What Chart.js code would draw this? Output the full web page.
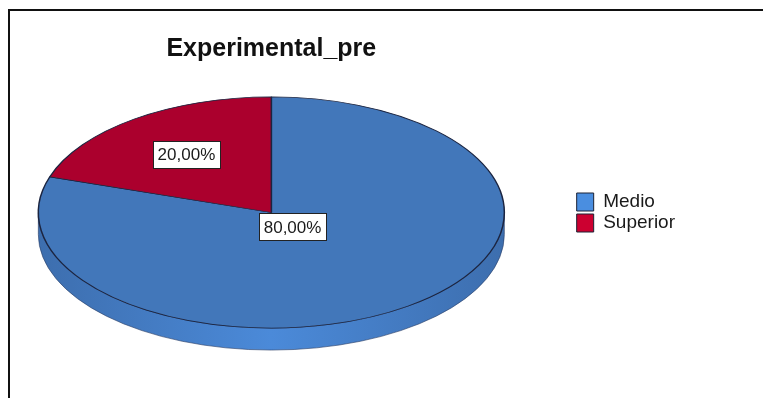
<!DOCTYPE html>
<html>
<head>
<meta charset="utf-8">
<title>Experimental_pre</title>
<script src="https://cdn.jsdelivr.net/npm/chart.js@4.4.0/dist/chart.umd.min.js"></script>
<style>
    html, body { margin: 0; padding: 0; background: #fff; overflow: hidden; }
    #wrap { position: relative; width: 763px; height: 398px; overflow: hidden; }
    #frame { position: absolute; left: 8px; top: 9px; right: -10px; bottom: -10px;
             border-left: 2px solid #111; border-top: 2px solid #111; }
    /* canvas starts a bit left of the page so the big pie sits where it should */
    #pieChart { position: absolute; left: -32px; top: 0; }
</style>
</head>
<body>
<div id="wrap">
    <div id="frame"></div>
    <canvas id="pieChart" width="795" height="398"></canvas>
</div>
<script>
var categories = ['Medio', 'Superior'];
var percentages = [80, 20];

var sliceColors = ['#4277ba', '#ab002d'];
var legendColors = ['#4a8ee0', '#cc0030'];
var fontFamily = '"Liberation Sans", Arial, sans-serif';

// fake 3d: squash the pie vertically and paint a side wall under it
var pie3d = {
    id: 'pie3d',
    beforeDatasetsDraw: function (chart, args, opts) {
        var ctx = chart.ctx;
        var arcs = chart.getDatasetMeta(0).data;
        var cx = arcs[0].x, cy = arcs[0].y, r = arcs[0].outerRadius;
        var ry = r * opts.tilt;

        ctx.save();
        arcs.forEach(function (arc, i) {
            var a0 = Math.max(arc.startAngle, 0);
            var a1 = Math.min(arc.endAngle, Math.PI);
            if (a1 <= a0) return;
            var shade = opts.sideColors[i];
            var grad = ctx.createLinearGradient(cx - r, 0, cx + r, 0);
            grad.addColorStop(0, shade[0]);
            grad.addColorStop(0.5, shade[1]);
            grad.addColorStop(1, shade[0]);
            ctx.beginPath();
            ctx.ellipse(cx, cy, r, ry, 0, a0, a1);
            ctx.ellipse(cx, cy + opts.depth, r, ry, 0, a1, a0, true);
            ctx.closePath();
            ctx.fillStyle = grad;
            ctx.fill();
            ctx.lineWidth = 1;
            ctx.strokeStyle = 'rgba(40, 60, 100, 0.6)';
            ctx.stroke();
        });
        ctx.restore();

        ctx.save();
        ctx.translate(cx, cy);
        ctx.scale(1, opts.tilt);
        ctx.translate(-cx, -cy);
    },
    afterDatasetsDraw: function (chart, args, opts) {
        var ctx = chart.ctx;
        ctx.restore();

        var arcs = chart.getDatasetMeta(0).data;
        var values = chart.data.datasets[0].data;
        var total = values.reduce(function (a, b) { return a + b; }, 0);

        ctx.save();
        ctx.font = opts.labelFont;
        ctx.textAlign = 'center';
        ctx.textBaseline = 'middle';
        arcs.forEach(function (arc, i) {
            var mid = (arc.startAngle + arc.endAngle) / 2;
            var d = arc.outerRadius * opts.labelRadius[i];
            var lx = arc.x + Math.cos(mid) * d;
            var ly = arc.y + Math.sin(mid) * d * opts.tilt;
            var txt = (values[i] / total * 100).toFixed(2).replace('.', ',') + '%';
            var w = Math.round(ctx.measureText(txt).width + 9);
            var h = 27;
            var bx = Math.round(lx - w / 2) + 0.5;
            var by = Math.round(ly - h / 2) + 0.5;
            ctx.fillStyle = '#fff';
            ctx.fillRect(bx, by, w, h);
            ctx.lineWidth = 1;
            ctx.strokeStyle = '#222';
            ctx.strokeRect(bx, by, w, h);
            ctx.fillStyle = '#1a1a1a';
            ctx.fillText(txt, lx, ly + 1);
        });
        ctx.restore();
    }
};

var ctx = document.getElementById('pieChart').getContext('2d');
var pieChart = new Chart(ctx, {
    type: 'pie',
    data: {
        labels: categories,
        datasets: [{
            data: percentages,
            backgroundColor: sliceColors,
            borderColor: '#1b2440',
            borderWidth: 1.5,
            radius: 233
        }]
    },
    options: {
        responsive: false,
        animation: false,
        events: [],
        layout: {
            padding: { left: 0, right: 78, top: 0, bottom: 42 }
        },
        plugins: {
            title: {
                display: true,
                text: 'Experimental_pre',
                fullSize: false,
                color: '#111',
                font: { size: 25, weight: 'bold', family: fontFamily },
                padding: { top: 34, bottom: 5 }
            },
            legend: {
                position: 'right',
                fullSize: false,
                labels: {
                    boxWidth: 17,
                    boxHeight: 18,
                    padding: 2,
                    color: '#1a1a1a',
                    font: { size: 19, family: fontFamily },
                    generateLabels: function (chart) {
                        var items = Chart.overrides.doughnut.plugins.legend.labels.generateLabels(chart);
                        items.forEach(function (it, i) {
                            it.fillStyle = legendColors[i];
                            it.strokeStyle = '#1c2235';
                            it.lineWidth = 1;
                        });
                        return items;
                    }
                }
            },
            tooltip: { enabled: false },
            pie3d: {
                tilt: 0.496,
                depth: 22,
                sideColors: [['#3d6eae', '#4b8ad9'], ['#7d0020', '#b5002e']],
                labelRadius: [0.155, 0.62],
                labelFont: '17px ' + fontFamily
            }
        }
    },
    plugins: [pie3d]
});
</script>
</body>
</html>
